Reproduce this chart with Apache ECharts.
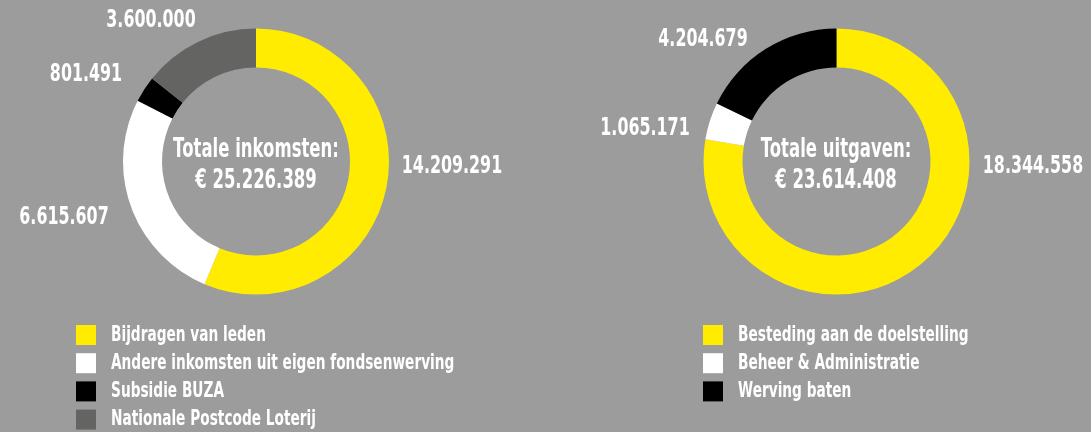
<!DOCTYPE html>
<html>
<head>
<meta charset="utf-8">
<script src="https://cdn.jsdelivr.net/npm/echarts@6/dist/echarts.min.js"></script>
<style>
  html, body { margin: 0; padding: 0; background: #9b9c9b; }
  #container { width: 1091px; height: 432px; }
</style>
</head>
<body>
<div id="container"></div>
<script>
// inkomsten (left donut)
var incomeNames = ['Bijdragen van leden', 'Andere inkomsten uit eigen fondsenwerving', 'Subsidie BUZA', 'Nationale Postcode Loterij'];
var incomeValues = [14209291, 6615607, 801491, 3600000];
var incomeColors = ['#ffec00', '#ffffff', '#000000', '#646463'];

// uitgaven (right donut)
var spendNames = ['Besteding aan de doelstelling', 'Beheer & Administratie', 'Werving baten'];
var spendValues = [18344558, 1065171, 4204679];
var spendColors = ['#ffec00', '#ffffff', '#000000'];

var incomeTitle = 'Totale inkomsten:';
var spendTitle = 'Totale uitgaven:';

// where the value labels sit (pixels)
var incomeLabelPos = [[452, 166], [64, 217], [86, 74], [151, 20]];
var spendLabelPos = [[1033, 166], [645, 128], [703, 39]];

// no narrow font installed, so squeeze the text
var FONT = '"DejaVu Sans", sans-serif';
var SQUEEZE = 0.635;

function fmt(v) {
    return String(v).replace(/\B(?=(\d{3})+(?!\d))/g, '.');
}
function sum(arr) {
    return arr.reduce(function (a, b) { return a + b; }, 0);
}

function toData(names, values, colors) {
    return names.map(function (n, i) {
        return { name: n, value: values[i], itemStyle: { color: colors[i] } };
    });
}

function donut(names, values, colors, center) {
    return {
        type: 'pie',
        radius: [94, 133],
        center: center,
        startAngle: 90,
        clockwise: true,
        silent: true,
        label: { show: false },
        labelLine: { show: false },
        data: toData(names, values, colors)
    };
}

function squeezedText(text, x, y, size, align) {
    return {
        type: 'text',
        x: x,
        y: y,
        scaleX: SQUEEZE,
        silent: true,
        style: {
            text: text,
            fill: '#ffffff',
            font: 'bold ' + size + 'px ' + FONT,
            textAlign: align || 'center',
            textVerticalAlign: 'middle'
        }
    };
}

function valueLabels(values, pos) {
    return values.map(function (v, i) {
        return squeezedText(fmt(v), pos[i][0], pos[i][1], 25);
    });
}

function centerText(title, values, cx) {
    return [
        squeezedText(title, cx, 150, 26),
        squeezedText('€ ' + fmt(sum(values)), cx, 181, 26)
    ];
}

function legendBlock(names, colors, left, top) {
    var out = [];
    names.forEach(function (n, i) {
        var y = top + i * 28.2;
        out.push({
            type: 'rect',
            silent: true,
            shape: { x: left, y: y, width: 20, height: 20 },
            style: { fill: colors[i] }
        });
        out.push(squeezedText(n, left + 35, y + 10, 21.6, 'left'));
    });
    return out;
}

var dom = document.getElementById('container');
var myChart = echarts.init(dom);
var option = {
    backgroundColor: '#9b9c9b',
    animation: false,
    graphic: [].concat(
        centerText(incomeTitle, incomeValues, 256),
        centerText(spendTitle, spendValues, 836),
        valueLabels(incomeValues, incomeLabelPos),
        valueLabels(spendValues, spendLabelPos),
        legendBlock(incomeNames, incomeColors, 76, 325),
        legendBlock(spendNames, spendColors, 703, 325)
    ),
    series: [
        donut(incomeNames, incomeValues, incomeColors, [256, 161.5]),
        donut(spendNames, spendValues, spendColors, [836.5, 161.5])
    ]
};
myChart.setOption(option);
</script>
</body>
</html>
